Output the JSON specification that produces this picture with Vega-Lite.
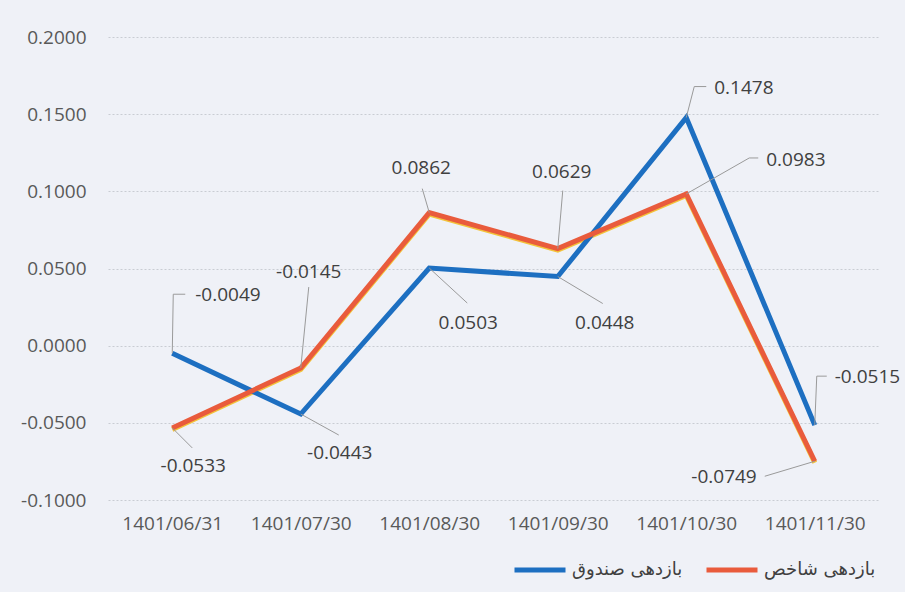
{
  "$schema": "https://vega.github.io/schema/vega-lite/v6.json",
  "width": 771,
  "height": 463,
  "autosize": "none",
  "padding": {"left": 108, "top": 37, "right": 26, "bottom": 92},
  "background": "#eff1f7",
  "data": {"values": [
    {"date": "1401/06/31", "series": "بازدهی صندوق", "value": -0.0049},
    {"date": "1401/07/30", "series": "بازدهی صندوق", "value": -0.0443},
    {"date": "1401/08/30", "series": "بازدهی صندوق", "value": 0.0503},
    {"date": "1401/09/30", "series": "بازدهی صندوق", "value": 0.0448},
    {"date": "1401/10/30", "series": "بازدهی صندوق", "value": 0.1478},
    {"date": "1401/11/30", "series": "بازدهی صندوق", "value": -0.0515},
    {"date": "1401/06/31", "series": "بازدهی شاخص", "value": -0.0533},
    {"date": "1401/07/30", "series": "بازدهی شاخص", "value": -0.0145},
    {"date": "1401/08/30", "series": "بازدهی شاخص", "value": 0.0862},
    {"date": "1401/09/30", "series": "بازدهی شاخص", "value": 0.0629},
    {"date": "1401/10/30", "series": "بازدهی شاخص", "value": 0.0983},
    {"date": "1401/11/30", "series": "بازدهی شاخص", "value": -0.0749}
  ]},
  "transform": [{"calculate": "replace(format(datum.value, '.4f'), '\u2212', '-')", "as": "label"}],
  "encoding": {
    "x": {"field": "date", "type": "ordinal", "sort": null,
      "scale": {"type": "point", "padding": 0.5},
      "axis": {"title": null, "labelAngle": 0, "domain": false, "ticks": false, "grid": false,
        "labelFont": "Open Sans", "labelFontSize": 19, "labelColor": "#595959", "labelPadding": 14}},
    "y": {"field": "value", "type": "quantitative",
      "scale": {"domain": [-0.1, 0.2], "nice": false, "zero": false},
      "axis": {"title": null, "values": [-0.1, -0.05, 0, 0.05, 0.1, 0.15, 0.2],
        "labelExpr": "replace(format(datum.value, '.4f'), '\u2212', '-')",
        "domain": false, "ticks": false, "grid": true, "gridColor": "#c9ccd3", "gridDash": [2, 2], "gridWidth": 1,
        "labelFont": "Open Sans", "labelFontSize": 19, "labelColor": "#595959", "labelPadding": 22}}
  },
  "layer": [
    {
      "transform": [{"filter": "datum.series=='بازدهی شاخص'"}],
      "mark": {"type": "line", "color": "#f3c33a", "strokeWidth": 5, "yOffset": 1.5, "strokeJoin": "miter"}
    },
    {
      "mark": {"type": "line", "strokeWidth": 5, "strokeJoin": "miter", "strokeCap": "butt"},
      "encoding": {
        "color": {"field": "series", "type": "nominal",
          "scale": {"domain": ["بازدهی صندوق", "بازدهی شاخص"], "range": ["#1d6fc1", "#e95b3c"]},
          "legend": {"title": null, "orient": "none", "legendX": 404, "legendY": 505, "direction": "horizontal",
            "symbolType": "stroke", "symbolSize": 2601, "symbolStrokeWidth": 5,
            "labelFont": "DejaVu Sans", "labelFontSize": 18, "labelColor": "#404040",
            "columnPadding": 13, "labelOffset": 4, "labelLimit": 300}}
      }
    },
    {"transform": [{"filter": "datum.series=='بازدهی صندوق' && datum.date=='1401/06/31'"}], "layer": [
      {"mark": {"type": "rule", "color": "#9a9a9a", "strokeWidth": 1, "x2Offset": 1, "y2Offset": -59}, "encoding": {"x2": {"field": "date"}, "y2": {"field": "value"}}},
      {"mark": {"type": "rule", "color": "#9a9a9a", "strokeWidth": 1, "xOffset": 1, "yOffset": -59, "x2Offset": 13, "y2Offset": -59}, "encoding": {"x2": {"field": "date"}, "y2": {"field": "value"}}},
      {"mark": {"type": "text", "align": "left", "baseline": "middle", "dx": 23, "dy": -58, "font": "Open Sans", "fontSize": 19, "color": "#404040"}, "encoding": {"text": {"field": "label"}}}
    ]},
    {"transform": [{"filter": "datum.series=='بازدهی صندوق' && datum.date=='1401/07/30'"}], "layer": [
      {"mark": {"type": "rule", "color": "#9a9a9a", "strokeWidth": 1, "x2Offset": 38, "y2Offset": 21}, "encoding": {"x2": {"field": "date"}, "y2": {"field": "value"}}},
      {"mark": {"type": "text", "align": "center", "baseline": "middle", "dx": 39, "dy": 39, "font": "Open Sans", "fontSize": 19, "color": "#404040"}, "encoding": {"text": {"field": "label"}}}
    ]},
    {"transform": [{"filter": "datum.series=='بازدهی صندوق' && datum.date=='1401/08/30'"}], "layer": [
      {"mark": {"type": "rule", "color": "#9a9a9a", "strokeWidth": 1, "x2Offset": 38, "y2Offset": 35}, "encoding": {"x2": {"field": "date"}, "y2": {"field": "value"}}},
      {"mark": {"type": "text", "align": "center", "baseline": "middle", "dx": 39, "dy": 55, "font": "Open Sans", "fontSize": 19, "color": "#404040"}, "encoding": {"text": {"field": "label"}}}
    ]},
    {"transform": [{"filter": "datum.series=='بازدهی صندوق' && datum.date=='1401/09/30'"}], "layer": [
      {"mark": {"type": "rule", "color": "#9a9a9a", "strokeWidth": 1, "x2Offset": 45, "y2Offset": 27}, "encoding": {"x2": {"field": "date"}, "y2": {"field": "value"}}},
      {"mark": {"type": "text", "align": "center", "baseline": "middle", "dx": 47, "dy": 46, "font": "Open Sans", "fontSize": 19, "color": "#404040"}, "encoding": {"text": {"field": "label"}}}
    ]},
    {"transform": [{"filter": "datum.series=='بازدهی صندوق' && datum.date=='1401/10/30'"}], "layer": [
      {"mark": {"type": "rule", "color": "#9a9a9a", "strokeWidth": 1, "x2Offset": 8, "y2Offset": -31}, "encoding": {"x2": {"field": "date"}, "y2": {"field": "value"}}},
      {"mark": {"type": "rule", "color": "#9a9a9a", "strokeWidth": 1, "xOffset": 8, "yOffset": -31, "x2Offset": 20, "y2Offset": -31}, "encoding": {"x2": {"field": "date"}, "y2": {"field": "value"}}},
      {"mark": {"type": "text", "align": "left", "baseline": "middle", "dx": 28, "dy": -30, "font": "Open Sans", "fontSize": 19, "color": "#404040"}, "encoding": {"text": {"field": "label"}}}
    ]},
    {"transform": [{"filter": "datum.series=='بازدهی صندوق' && datum.date=='1401/11/30'"}], "layer": [
      {"mark": {"type": "rule", "color": "#9a9a9a", "strokeWidth": 1, "x2Offset": 2, "y2Offset": -49}, "encoding": {"x2": {"field": "date"}, "y2": {"field": "value"}}},
      {"mark": {"type": "rule", "color": "#9a9a9a", "strokeWidth": 1, "xOffset": 2, "yOffset": -49, "x2Offset": 12, "y2Offset": -49}, "encoding": {"x2": {"field": "date"}, "y2": {"field": "value"}}},
      {"mark": {"type": "text", "align": "left", "baseline": "middle", "dx": 20, "dy": -48, "font": "Open Sans", "fontSize": 19, "color": "#404040"}, "encoding": {"text": {"field": "label"}}}
    ]},
    {"transform": [{"filter": "datum.series=='بازدهی شاخص' && datum.date=='1401/06/31'"}], "layer": [
      {"mark": {"type": "rule", "color": "#9a9a9a", "strokeWidth": 1, "x2Offset": 20, "y2Offset": 20}, "encoding": {"x2": {"field": "date"}, "y2": {"field": "value"}}},
      {"mark": {"type": "text", "align": "center", "baseline": "middle", "dx": 21, "dy": 38, "font": "Open Sans", "fontSize": 19, "color": "#404040"}, "encoding": {"text": {"field": "label"}}}
    ]},
    {"transform": [{"filter": "datum.series=='بازدهی شاخص' && datum.date=='1401/07/30'"}], "layer": [
      {"mark": {"type": "rule", "color": "#9a9a9a", "strokeWidth": 1, "x2Offset": 8, "y2Offset": -81}, "encoding": {"x2": {"field": "date"}, "y2": {"field": "value"}}},
      {"mark": {"type": "text", "align": "center", "baseline": "middle", "dx": 8, "dy": -96, "font": "Open Sans", "fontSize": 19, "color": "#404040"}, "encoding": {"text": {"field": "label"}}}
    ]},
    {"transform": [{"filter": "datum.series=='بازدهی شاخص' && datum.date=='1401/08/30'"}], "layer": [
      {"mark": {"type": "rule", "color": "#9a9a9a", "strokeWidth": 1, "x2Offset": -7, "y2Offset": -24}, "encoding": {"x2": {"field": "date"}, "y2": {"field": "value"}}},
      {"mark": {"type": "text", "align": "center", "baseline": "middle", "dx": -8, "dy": -45, "font": "Open Sans", "fontSize": 19, "color": "#404040"}, "encoding": {"text": {"field": "label"}}}
    ]},
    {"transform": [{"filter": "datum.series=='بازدهی شاخص' && datum.date=='1401/09/30'"}], "layer": [
      {"mark": {"type": "rule", "color": "#9a9a9a", "strokeWidth": 1, "x2Offset": 5, "y2Offset": -58}, "encoding": {"x2": {"field": "date"}, "y2": {"field": "value"}}},
      {"mark": {"type": "text", "align": "center", "baseline": "middle", "dx": 4, "dy": -77, "font": "Open Sans", "fontSize": 19, "color": "#404040"}, "encoding": {"text": {"field": "label"}}}
    ]},
    {"transform": [{"filter": "datum.series=='بازدهی شاخص' && datum.date=='1401/10/30'"}], "layer": [
      {"mark": {"type": "rule", "color": "#9a9a9a", "strokeWidth": 1, "x2Offset": 63, "y2Offset": -36}, "encoding": {"x2": {"field": "date"}, "y2": {"field": "value"}}},
      {"mark": {"type": "rule", "color": "#9a9a9a", "strokeWidth": 1, "xOffset": 63, "yOffset": -36, "x2Offset": 72, "y2Offset": -36}, "encoding": {"x2": {"field": "date"}, "y2": {"field": "value"}}},
      {"mark": {"type": "text", "align": "left", "baseline": "middle", "dx": 80, "dy": -34, "font": "Open Sans", "fontSize": 19, "color": "#404040"}, "encoding": {"text": {"field": "label"}}}
    ]},
    {"transform": [{"filter": "datum.series=='بازدهی شاخص' && datum.date=='1401/11/30'"}], "layer": [
      {"mark": {"type": "rule", "color": "#9a9a9a", "strokeWidth": 1, "x2Offset": -50, "y2Offset": 15}, "encoding": {"x2": {"field": "date"}, "y2": {"field": "value"}}},
      {"mark": {"type": "text", "align": "right", "baseline": "middle", "dx": -58, "dy": 16, "font": "Open Sans", "fontSize": 19, "color": "#404040"}, "encoding": {"text": {"field": "label"}}}
    ]}
  ],
  "config": {"view": {"stroke": null}}
}
